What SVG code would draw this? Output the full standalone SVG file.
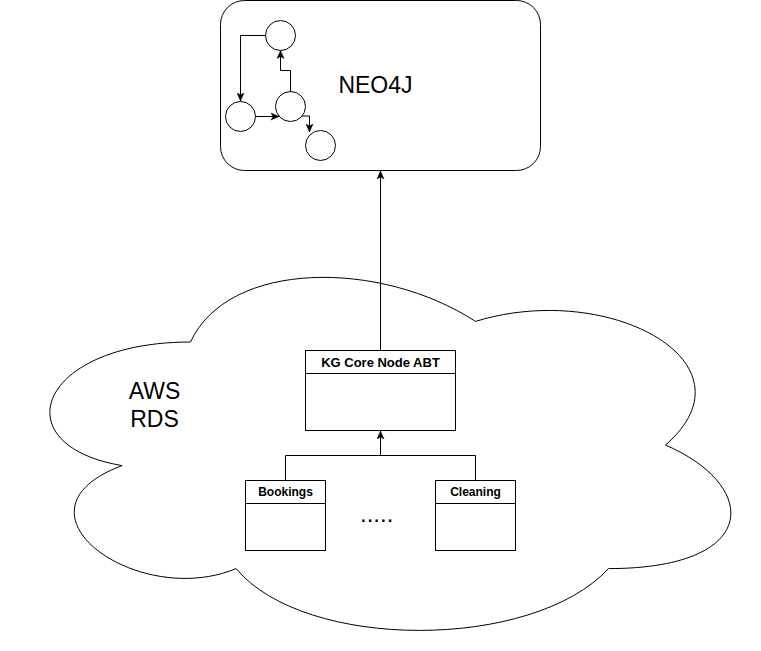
<svg xmlns="http://www.w3.org/2000/svg" width="761" height="651" viewBox="0 0 761 651">
<style>
.shape{fill:#fff;stroke:#000;stroke-width:1}
.edge{fill:none;stroke:#000;stroke-width:1}
.big{font-family:"Liberation Sans",Arial,sans-serif;font-size:23px;fill:#000}
.hdr{font-family:"Liberation Sans",Arial,sans-serif;font-size:12px;font-weight:bold;fill:#000}
</style>
<defs>
<marker id="arr" markerUnits="userSpaceOnUse" markerWidth="8" markerHeight="8" viewBox="0 0 8 8" refX="8" refY="4" orient="auto">
<path d="M0,0.5 L8,4 L0,7.5 L2,4 Z" fill="#000" stroke="#000" stroke-width="0.5"/>
</marker>
</defs>
<rect width="761" height="651" fill="#fff"/>
<g id="aws-rds">
<path class="shape" d="M190.5,342 C38.5,342 0.5,445 122.1,465.6 C0.5,510.9 137.3,609.8 236.1,568.6 C304.5,651 532.5,651 608.5,568.6 C760.5,568.6 760.5,486.2 665.5,445 C760.5,362.6 608.5,280.2 475.5,321.4 C380.5,259.6 228.5,259.6 190.5,342 Z"/>
<text class="big" x="154.5" y="399" text-anchor="middle">AWS</text>
<text class="big" x="154.5" y="427" text-anchor="middle">RDS</text>
</g>
<g id="neo4j">
<rect class="shape" x="220.5" y="0.5" width="320" height="170" rx="24" ry="24"/>
<circle class="shape" cx="280.5" cy="35.5" r="15"/>
<circle class="shape" cx="240.5" cy="116.5" r="15"/>
<circle class="shape" cx="290.5" cy="106.5" r="15"/>
<circle class="shape" cx="320.5" cy="145.5" r="15"/>
<g class="inner-edges">
<path class="edge" d="M265.5,35.5 H240.5 V101" marker-end="url(#arr)"/>
<path class="edge" d="M255.5,116.5 H279" marker-end="url(#arr)"/>
<path class="edge" d="M290.5,91.5 V70.5 H280.5 V50.5" marker-end="url(#arr)"/>
<path class="edge" d="M302,116 H309.5 V132" marker-end="url(#arr)"/>
</g>
<text class="big" x="375.5" y="93" text-anchor="middle">NEO4J</text>
</g>
<g id="kg-core">
<rect class="shape" x="305.5" y="350.5" width="150" height="80"/>
<line class="edge" x1="305.5" y1="373.5" x2="455.5" y2="373.5"/>
<text class="hdr" style="font-size:13px" x="380.5" y="366.5" text-anchor="middle">KG Core Node ABT</text>
</g>
<g id="bookings">
<rect class="shape" x="245.5" y="480.5" width="80" height="70"/>
<line class="edge" x1="245.5" y1="503.5" x2="325.5" y2="503.5"/>
<text class="hdr" x="285.5" y="496" text-anchor="middle">Bookings</text>
</g>
<g id="cleaning">
<rect class="shape" x="435.5" y="480.5" width="80" height="70"/>
<line class="edge" x1="435.5" y1="503.5" x2="515.5" y2="503.5"/>
<text class="hdr" x="475.5" y="496" text-anchor="middle">Cleaning</text>
</g>
<g id="ellipsis">
<text x="376.7" y="522" text-anchor="middle" style="font-family:'Liberation Sans',Arial,sans-serif;font-size:24px;fill:#000">.....</text>
</g>
<g id="connectors">
<path class="edge" d="M380.5,350.5 V171" marker-end="url(#arr)"/>
<path class="edge" d="M285.5,480.5 V455.5 H475.5 V480.5"/>
<path class="edge" d="M380.5,455.5 V431" marker-end="url(#arr)"/>
</g>
</svg>
